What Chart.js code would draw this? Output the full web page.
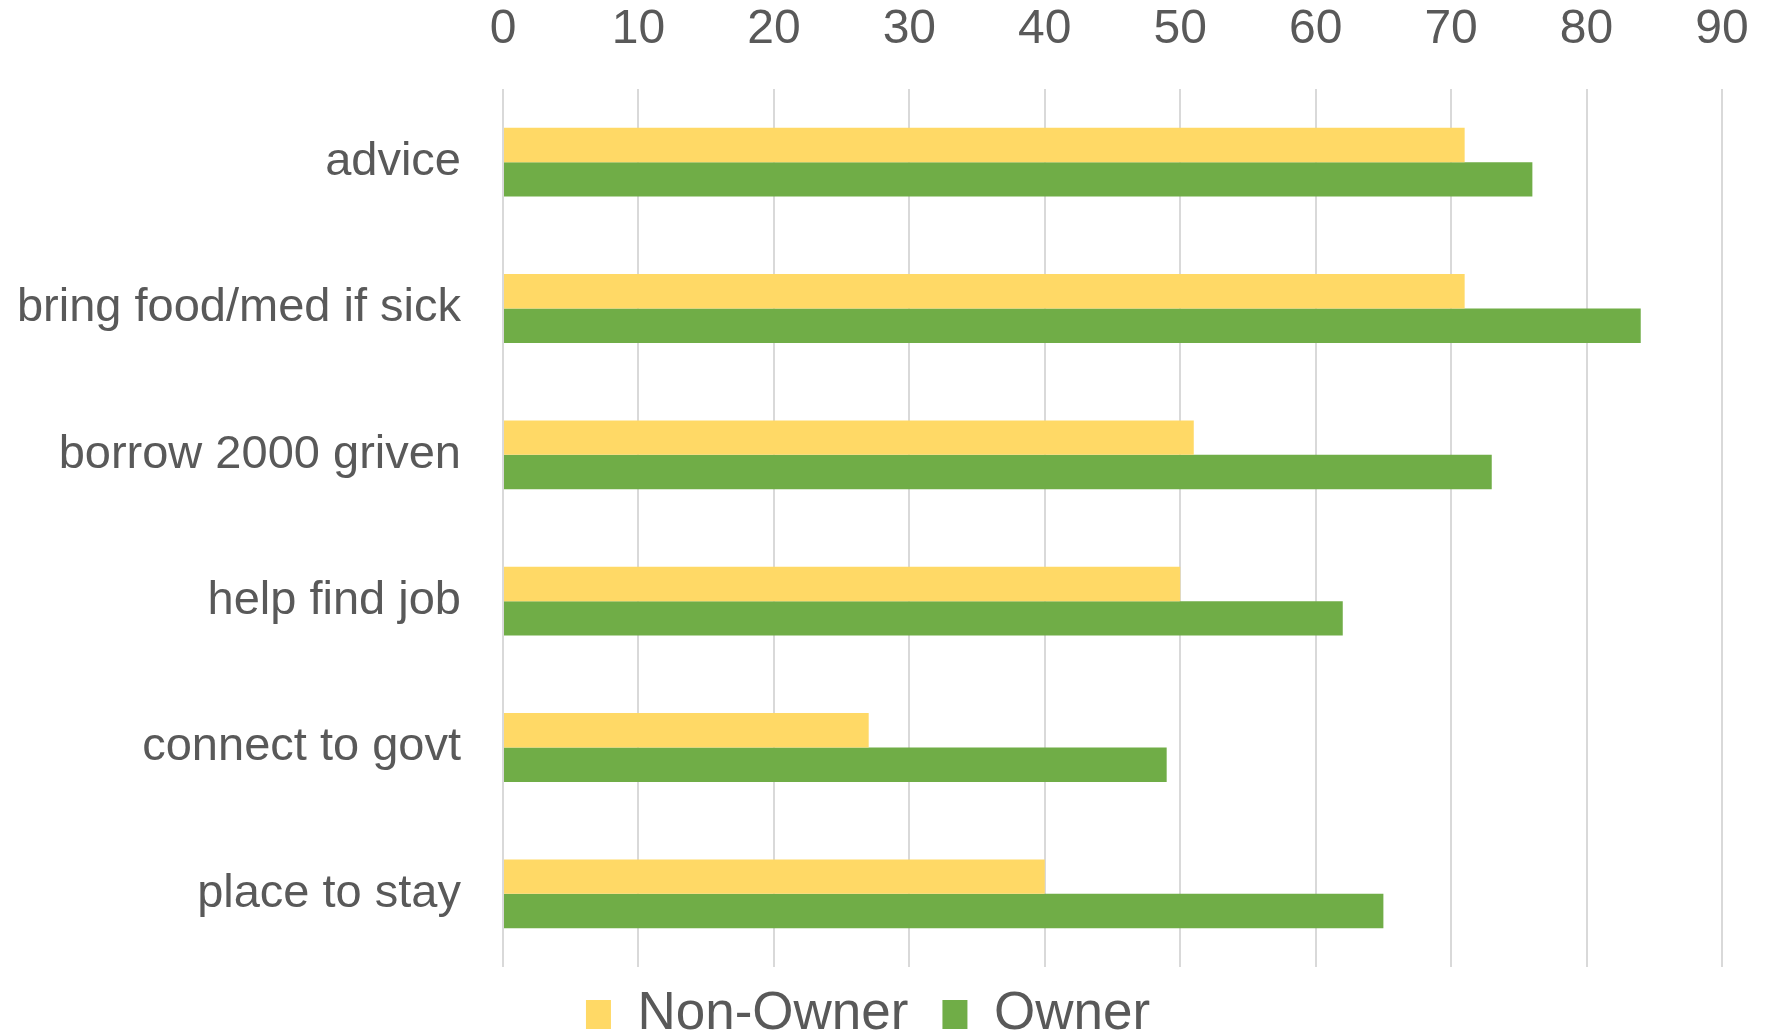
<!DOCTYPE html>
<html>
<head>
<meta charset="utf-8">
<script src="https://cdn.jsdelivr.net/npm/chart.js@4/dist/chart.umd.min.js"></script>
<style>
  html, body { margin: 0; padding: 0; background: #ffffff; }
  #wrap { width: 1771px; height: 1032px; position: relative; }
</style>
</head>
<body>
<div id="wrap"><canvas id="c" width="1771" height="1032"></canvas></div>
<script>
const categories = ["advice", "bring food/med if sick", "borrow 2000 griven", "help find job", "connect to govt", "place to stay"];
const nonOwnerValues = [71, 71, 51, 50, 27, 40];
const ownerValues = [76, 84, 73, 62, 49, 65];
const seriesNames = ["Non-Owner", "Owner"];
const xTickMin = 0;
const xTickMax = 90;
const xTickStep = 10;

Chart.defaults.font.family = "'Liberation Sans', Arial, Helvetica, sans-serif";
Chart.defaults.color = "#595959";

const legendShift = {
  id: 'legendShift',
  afterLayout(chart) {
    if (chart.legend) {
      chart.legend.top -= 13;
    }
  }
};

new Chart(document.getElementById('c'), {
  type: 'bar',
  data: {
    labels: categories,
    datasets: [
      { label: seriesNames[0], data: nonOwnerValues, backgroundColor: '#FFD966', borderWidth: 0,
        categoryPercentage: 0.47, barPercentage: 1.0 },
      { label: seriesNames[1], data: ownerValues, backgroundColor: '#70AD47', borderWidth: 0,
        categoryPercentage: 0.47, barPercentage: 1.0 }
    ]
  },
  options: {
    indexAxis: 'y',
    responsive: false,
    animation: false,
    layout: { padding: { left: 14, right: 49, top: 3, bottom: 0 } },
    scales: {
      x: {
        position: 'top',
        min: xTickMin,
        max: xTickMax,
        ticks: { stepSize: xTickStep, font: { size: 48 }, color: '#595959', padding: 30 },
        grid: { color: '#d9d9d9', lineWidth: 2, drawTicks: false },
        border: { display: false },
        afterFit(scale) {
          scale.height = 86;
          scale.paddingLeft = 0;
          scale.paddingRight = 0;
        }
      },
      y: {
        ticks: { font: { size: 47 }, color: '#595959', padding: 42 },
        grid: { display: false, drawTicks: false },
        border: { display: false },
        afterFit(scale) {
          scale.width = 489;
          scale.paddingTop = 0;
          scale.paddingBottom = 0;
        }
      }
    },
    plugins: {
      legend: {
        position: 'bottom',
        maxHeight: 65,
        labels: { font: { size: 53 }, color: '#595959', boxWidth: 25, boxHeight: 29, padding: 34 }
      },
      tooltip: { enabled: false }
    }
  },
  plugins: [legendShift]
});
</script>
</body>
</html>
